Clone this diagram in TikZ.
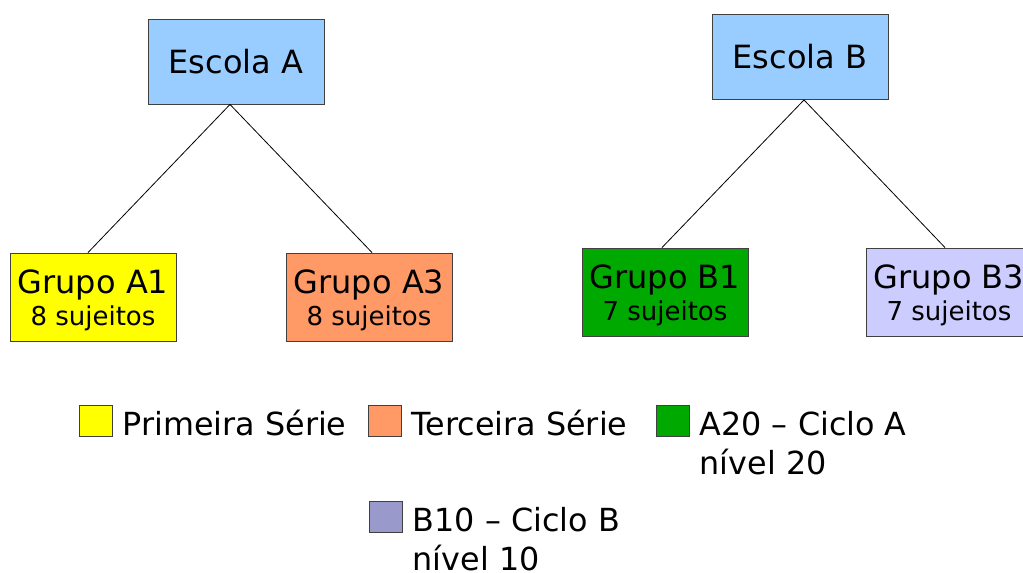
\documentclass[tikz,border=0pt]{standalone}
\usepackage{fontspec}
\setmainfont{DejaVu Sans}
\definecolor{schoolblue}{HTML}{99CCFF}
\definecolor{grpyellow}{HTML}{FFFF00}
\definecolor{grporange}{HTML}{FF9966}
\definecolor{grpgreen}{HTML}{00A900}
\definecolor{grplilac}{HTML}{CCCCFF}
\definecolor{keylilac}{HTML}{9999CC}
\definecolor{edgegray}{HTML}{404040}
\begin{document}
\begin{tikzpicture}[x=1pt,y=-1pt,
  box/.style={draw=edgegray, line width=0.9pt, rectangle, inner sep=0pt},
  school/.style={box, fill=schoolblue, minimum width=176pt, minimum height=85pt,
                 font=\fontsize{32}{38}\selectfont},
  group/.style={box, minimum width=166pt, minimum height=88pt},
  gname/.style={anchor=base, inner sep=0pt, font=\fontsize{32}{38}\selectfont},
  gcount/.style={anchor=base, inner sep=0pt, font=\fontsize{26}{31}\selectfont},
  conn/.style={draw=black, line width=0.8pt},
  swatch/.style={box, minimum width=33pt, minimum height=31pt},
  keytext/.style={anchor=base west, inner sep=0pt, font=\fontsize{31.8}{38}\selectfont},
]
\useasboundingbox (0,0) rectangle (1023,573);
\begin{scope}
\clip (0,0) rectangle (1023,573);

% schools
\node[school] (ea) at (236,61.5) {Escola A};
\node[school] (eb) at (800,57) {Escola B};

% groups
\node[group, fill=grpyellow] (a1) at (93,297) {};
\node[group, fill=grporange] (a3) at (369,297) {};
\node[group, fill=grpgreen]  (b1) at (665,292) {};
\node[group, fill=grplilac]  (b3) at (949,292) {};

\node[gname]  (a1n) at ([yshift=3.7pt]a1.center) {Grupo A1};
\node[gcount] (a1c) at ([yshift=-28pt]a1.center) {8 sujeitos};
\node[gname]  (a3n) at ([yshift=3.7pt]a3.center) {Grupo A3};
\node[gcount] (a3c) at ([yshift=-28pt]a3.center) {8 sujeitos};
\node[gname]  (b1n) at ([yshift=3.7pt]b1.center) {Grupo B1};
\node[gcount] (b1c) at ([yshift=-28pt]b1.center) {7 sujeitos};
\node[gname]  (b3n) at ([yshift=3.7pt]b3.center) {Grupo B3};
\node[gcount] (b3c) at ([yshift=-28pt]b3.center) {7 sujeitos};

% tree connectors
\draw[conn] ([xshift=-6pt]ea.south) -- ([xshift=-5pt]a1.north);
\draw[conn] ([xshift=-6pt]ea.south) -- ([xshift=3pt]a3.north);
\draw[conn] ([xshift=4pt]eb.south) -- ([xshift=-3pt]b1.north);
\draw[conn] ([xshift=4pt]eb.south) -- ([xshift=-4pt]b3.north);

% legend
\node[swatch, fill=grpyellow] (k1) at (96,420.5) {};
\node[keytext] (k1t) at (122.5,435) {Primeira Série};
\node[swatch, fill=grporange] (k2) at (385,420.5) {};
\node[keytext] (k2t) at (411.5,435) {Terceira Série};
\node[swatch, fill=grpgreen] (k3) at (673,420.5) {};
\node[keytext] (k3t) at (699.5,435) {A20 – Ciclo A};
\node[keytext] (k3u) at (699.5,474) {nível 20};
\node[swatch, fill=keylilac] (k4) at (386,516.5) {};
\node[keytext] (k4t) at (412.5,531) {B10 – Ciclo B};
\node[keytext] (k4u) at (412.5,570) {nível 10};
\end{scope}
\end{tikzpicture}
\end{document}
